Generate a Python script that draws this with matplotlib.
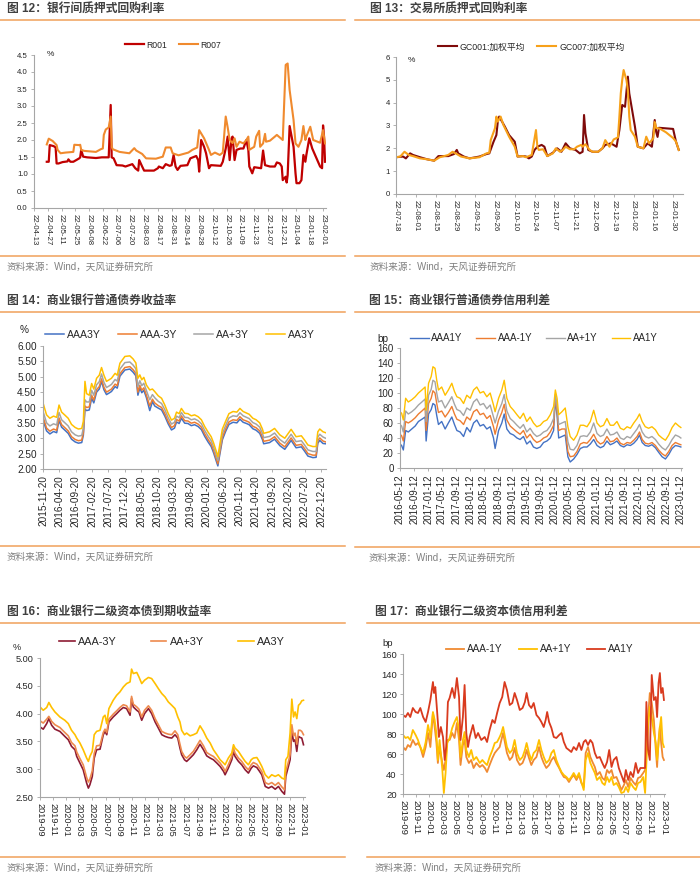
import matplotlib
matplotlib.use("Agg")
import matplotlib.pyplot as plt
import matplotlib.dates as mdates
from matplotlib.lines import Line2D
from matplotlib.ticker import FormatStrFormatter
import pandas as pd

plt.rcParams['font.family'] = ['Liberation Sans', 'Noto Sans CJK SC']

# ---------------- data ----------------
# 图12 银行间质押式回购利率 (%)
r007 = [("2022-04-26", 1.87), ("2022-04-28", 2.04), ("2022-05-02", 1.97), ("2022-05-06", 1.85), ("2022-05-07", 1.71),
        ("2022-05-10", 1.61), ("2022-05-15", 1.63), ("2022-05-23", 1.65), ("2022-05-24", 1.86), ("2022-05-29", 1.85),
        ("2022-05-30", 1.86), ("2022-05-31", 1.71), ("2022-06-03", 1.68), ("2022-06-15", 1.65), ("2022-06-20", 1.73),
        ("2022-06-22", 1.75), ("2022-06-23", 2.15), ("2022-06-25", 2.31), ("2022-06-28", 2.37), ("2022-06-30", 2.69),
        ("2022-07-01", 1.80), ("2022-07-02", 1.73), ("2022-07-09", 1.65), ("2022-07-19", 1.61), ("2022-07-24", 1.76),
        ("2022-07-26", 1.69), ("2022-08-01", 1.59), ("2022-08-05", 1.46), ("2022-08-15", 1.45), ("2022-08-22", 1.51),
        ("2022-08-25", 1.78), ("2022-08-30", 1.78), ("2022-09-01", 1.61), ("2022-09-07", 1.55), ("2022-09-17", 1.63),
        ("2022-09-21", 1.71), ("2022-09-26", 1.78), ("2022-09-28", 2.29), ("2022-10-03", 2.05), ("2022-10-08", 1.71),
        ("2022-10-10", 1.56), ("2022-10-14", 1.63), ("2022-10-19", 1.56), ("2022-10-22", 1.63), ("2022-10-25", 2.69),
        ("2022-10-27", 2.37), ("2022-10-29", 2.00), ("2022-11-01", 1.91), ("2022-11-03", 2.05), ("2022-11-05", 1.80),
        ("2022-11-08", 1.95), ("2022-11-12", 1.90), ("2022-11-15", 2.00), ("2022-11-17", 2.10), ("2022-11-18", 1.71),
        ("2022-11-23", 1.80), ("2022-11-25", 2.10), ("2022-11-28", 2.27), ("2022-11-29", 1.80), ("2022-12-02", 1.90),
        ("2022-12-04", 2.18), ("2022-12-05", 1.95), ("2022-12-09", 1.98), ("2022-12-14", 2.10), ("2022-12-16", 2.15),
        ("2022-12-22", 2.00), ("2022-12-25", 4.21), ("2022-12-27", 4.25), ("2022-12-29", 3.47), ("2023-01-02", 2.59),
        ("2023-01-04", 1.90), ("2023-01-07", 1.80), ("2023-01-10", 2.00), ("2023-01-12", 2.41), ("2023-01-14", 2.00),
        ("2023-01-15", 2.10), ("2023-01-19", 2.39), ("2023-01-22", 2.00), ("2023-01-29", 1.92), ("2023-02-01", 2.29),
        ("2023-02-03", 1.90)]
r001 = [("2022-04-26", 1.36), ("2022-04-28", 1.36), ("2022-04-29", 1.85), ("2022-05-03", 1.82), ("2022-05-05", 1.78),
        ("2022-05-06", 1.31), ("2022-05-08", 1.31), ("2022-05-12", 1.35), ("2022-05-17", 1.37), ("2022-05-18", 1.43),
        ("2022-05-20", 1.36), ("2022-05-23", 1.36), ("2022-05-29", 1.46), ("2022-05-30", 1.49), ("2022-05-31", 1.71),
        ("2022-06-02", 1.51), ("2022-06-06", 1.49), ("2022-06-15", 1.47), ("2022-06-21", 1.49), ("2022-06-28", 1.49),
        ("2022-06-30", 3.03), ("2022-07-01", 1.49), ("2022-07-03", 1.46), ("2022-07-06", 1.26), ("2022-07-12", 1.25),
        ("2022-07-15", 1.22), ("2022-07-19", 1.26), ("2022-07-22", 1.29), ("2022-07-25", 1.17), ("2022-07-28", 1.10),
        ("2022-07-29", 1.41), ("2022-08-01", 1.22), ("2022-08-03", 1.10), ("2022-08-13", 1.10), ("2022-08-17", 1.17),
        ("2022-08-18", 1.22), ("2022-08-22", 1.17), ("2022-08-25", 1.29), ("2022-08-29", 1.24), ("2022-08-31", 1.26),
        ("2022-09-02", 1.56), ("2022-09-04", 1.22), ("2022-09-06", 1.12), ("2022-09-09", 1.24), ("2022-09-16", 1.26),
        ("2022-09-19", 1.46), ("2022-09-25", 1.53), ("2022-09-27", 1.41), ("2022-09-28", 1.07), ("2022-09-30", 2.00),
        ("2022-10-03", 1.80), ("2022-10-05", 1.61), ("2022-10-08", 1.17), ("2022-10-10", 1.26), ("2022-10-20", 1.24),
        ("2022-10-22", 1.36), ("2022-10-25", 1.75), ("2022-10-27", 2.10), ("2022-10-29", 1.41), ("2022-10-31", 2.05),
        ("2022-11-01", 2.10), ("2022-11-03", 1.41), ("2022-11-05", 1.71), ("2022-11-09", 1.75), ("2022-11-12", 1.75),
        ("2022-11-15", 2.00), ("2022-11-17", 1.71), ("2022-11-18", 1.22), ("2022-11-21", 1.02), ("2022-11-23", 1.20),
        ("2022-11-30", 1.17), ("2022-12-02", 1.69), ("2022-12-04", 1.26), ("2022-12-09", 1.22), ("2022-12-14", 1.22),
        ("2022-12-16", 1.34), ("2022-12-19", 1.31), ("2022-12-21", 1.22), ("2022-12-22", 0.82), ("2022-12-25", 0.92),
        ("2022-12-26", 0.75), ("2022-12-27", 0.97), ("2022-12-29", 2.41), ("2023-01-02", 1.80), ("2023-01-04", 1.02),
        ("2023-01-05", 0.73), ("2023-01-08", 0.73), ("2023-01-10", 0.82), ("2023-01-12", 1.56), ("2023-01-14", 1.36),
        ("2023-01-15", 1.56), ("2023-01-18", 2.05), ("2023-01-21", 1.75), ("2023-01-29", 1.22), ("2023-01-31", 1.17),
        ("2023-02-01", 2.43), ("2023-02-02", 2.10), ("2023-02-03", 1.36)]

# 图13 交易所质押式回购利率 (%)
gc007 = [("2022-07-18", 1.61), ("2022-07-21", 1.64), ("2022-07-24", 1.85), ("2022-07-27", 1.71), ("2022-07-30", 1.66),
         ("2022-08-04", 1.56), ("2022-08-09", 1.52), ("2022-08-14", 1.46), ("2022-08-18", 1.61), ("2022-08-24", 1.71),
         ("2022-08-27", 1.85), ("2022-08-30", 1.75), ("2022-09-02", 1.64), ("2022-09-08", 1.56), ("2022-09-15", 1.61),
         ("2022-09-20", 1.78), ("2022-09-22", 1.81), ("2022-09-23", 2.36), ("2022-09-26", 2.88), ("2022-09-27", 3.39),
         ("2022-09-28", 3.17), ("2022-09-30", 3.39), ("2022-10-02", 3.02), ("2022-10-06", 2.51), ("2022-10-10", 2.07),
         ("2022-10-12", 1.64), ("2022-10-16", 1.66), ("2022-10-18", 1.61), ("2022-10-22", 1.71), ("2022-10-23", 2.07),
         ("2022-10-25", 2.80), ("2022-10-26", 2.07), ("2022-10-27", 1.93), ("2022-10-30", 1.96), ("2022-11-02", 1.66),
         ("2022-11-06", 1.78), ("2022-11-08", 2.00), ("2022-11-11", 1.85), ("2022-11-13", 1.93), ("2022-11-15", 2.07),
         ("2022-11-18", 1.96), ("2022-11-21", 1.96), ("2022-11-23", 2.07), ("2022-11-26", 2.15), ("2022-11-27", 2.07),
         ("2022-11-29", 2.18), ("2022-12-02", 1.93), ("2022-12-04", 1.85), ("2022-12-08", 1.85), ("2022-12-11", 2.00),
         ("2022-12-13", 2.36), ("2022-12-16", 2.07), ("2022-12-19", 2.39), ("2022-12-22", 2.48), ("2022-12-23", 3.39),
         ("2022-12-24", 4.41), ("2022-12-25", 4.99), ("2022-12-26", 5.43), ("2022-12-28", 4.99), ("2022-12-29", 4.55),
         ("2022-12-30", 3.39), ("2022-12-31", 2.80), ("2023-01-03", 2.51), ("2023-01-05", 2.07), ("2023-01-09", 2.00),
         ("2023-01-11", 2.51), ("2023-01-13", 2.22), ("2023-01-16", 2.44), ("2023-01-17", 3.15), ("2023-01-18", 2.90),
         ("2023-01-21", 2.85), ("2023-01-25", 2.70), ("2023-01-30", 2.45), ("2023-02-01", 2.30), ("2023-02-03", 1.93)]
gc001 = [("2022-07-18", 1.61), ("2022-07-23", 1.64), ("2022-07-25", 1.56), ("2022-07-28", 1.78), ("2022-07-30", 1.71),
         ("2022-08-04", 1.61), ("2022-08-09", 1.52), ("2022-08-14", 1.46), ("2022-08-17", 1.66), ("2022-08-24", 1.66),
         ("2022-08-28", 1.75), ("2022-08-30", 1.93), ("2022-08-31", 1.78), ("2022-09-04", 1.64), ("2022-09-08", 1.56),
         ("2022-09-15", 1.64), ("2022-09-20", 1.75), ("2022-09-22", 1.78), ("2022-09-25", 2.29), ("2022-09-27", 2.58),
         ("2022-09-28", 3.17), ("2022-09-29", 3.39), ("2022-10-03", 2.95), ("2022-10-06", 2.58), ("2022-10-10", 2.29),
         ("2022-10-12", 1.64), ("2022-10-16", 1.66), ("2022-10-18", 1.64), ("2022-10-20", 1.56), ("2022-10-22", 1.64),
         ("2022-10-24", 1.93), ("2022-10-26", 2.07), ("2022-10-29", 2.15), ("2022-10-31", 2.07), ("2022-11-02", 1.66),
         ("2022-11-06", 1.81), ("2022-11-09", 2.00), ("2022-11-12", 1.85), ("2022-11-15", 2.22), ("2022-11-18", 2.00),
         ("2022-11-22", 1.93), ("2022-11-25", 1.78), ("2022-11-27", 1.85), ("2022-11-28", 3.46), ("2022-11-29", 2.66),
         ("2022-12-01", 1.93), ("2022-12-04", 1.85), ("2022-12-08", 1.85), ("2022-12-11", 2.00), ("2022-12-13", 2.15),
         ("2022-12-17", 2.22), ("2022-12-21", 2.07), ("2022-12-23", 2.80), ("2022-12-25", 3.90), ("2022-12-27", 3.82),
         ("2022-12-29", 5.14), ("2022-12-30", 4.41), ("2023-01-03", 2.95), ("2023-01-05", 2.07), ("2023-01-09", 2.00),
         ("2023-01-12", 2.22), ("2023-01-15", 2.07), ("2023-01-17", 3.24), ("2023-01-18", 2.73), ("2023-01-19", 2.50),
         ("2023-01-20", 2.90), ("2023-01-30", 2.85), ("2023-02-01", 2.30), ("2023-02-03", 1.93)]

# 图14 商业银行普通债券收益率 (%)
p14_dates = ["2015-11-20", "2015-12-23", "2016-01-23", "2016-02-26", "2016-03-26", "2016-04-17", "2016-05-11", "2016-06-11",
             "2016-07-11", "2016-08-11", "2016-09-14", "2016-10-14", "2016-11-14", "2016-11-29", "2016-12-14", "2016-12-29",
             "2017-01-23", "2017-02-14", "2017-03-06", "2017-04-01", "2017-04-26", "2017-05-17", "2017-06-08", "2017-07-02",
             "2017-07-26", "2017-08-17", "2017-09-20", "2017-10-10", "2017-11-04", "2017-12-20", "2018-02-04", "2018-03-06",
             "2018-04-01", "2018-04-20", "2018-05-08", "2018-05-26", "2018-06-14", "2018-07-08", "2018-08-08", "2018-09-02",
             "2018-09-23", "2018-10-26", "2018-11-26", "2018-12-26", "2019-01-26", "2019-02-26", "2019-03-26", "2019-04-14",
             "2019-05-08", "2019-05-29", "2019-06-29", "2019-07-29", "2019-08-29", "2019-09-29", "2019-11-01", "2019-12-01",
             "2020-01-01", "2020-02-01", "2020-03-01", "2020-03-23", "2020-04-17", "2020-05-02", "2020-05-17", "2020-06-13",
             "2020-07-13", "2020-08-13", "2020-09-20", "2020-10-26", "2020-11-23", "2020-12-23", "2021-01-23", "2021-02-17",
             "2021-03-23", "2021-04-23", "2021-05-26", "2021-06-20", "2021-07-02", "2021-08-26", "2021-10-11", "2021-11-29",
             "2022-01-14", "2022-03-14", "2022-04-29", "2022-06-17", "2022-07-17", "2022-08-17", "2022-10-02", "2022-11-01",
             "2022-11-17", "2022-12-05", "2023-01-04", "2023-01-29"]
aaa3y_14 = [3.60, 3.24, 3.14, 3.22, 3.18, 3.58, 3.36, 3.26, 3.16, 2.97, 2.88, 2.84, 2.86, 3.10, 3.95, 3.90, 3.92, 4.30, 4.15, 4.50,
            4.60, 4.85, 4.58, 4.42, 4.47, 4.52, 4.68, 4.63, 5.02, 5.22, 5.25, 5.15, 5.03, 4.40, 4.64, 4.48, 4.56, 4.32, 3.90, 4.19,
            4.05, 3.98, 3.92, 3.72, 3.47, 3.27, 3.33, 3.53, 3.48, 3.65, 3.49, 3.48, 3.41, 3.44, 3.38, 3.28, 3.06, 2.88, 2.73, 2.53,
            2.26, 2.10, 2.41, 2.95, 3.22, 3.45, 3.52, 3.50, 3.62, 3.52, 3.48, 3.44, 3.31, 3.26, 3.16, 2.96, 2.82, 2.86, 2.97, 2.76,
            2.64, 2.93, 2.69, 2.72, 2.58, 2.42, 2.37, 2.38, 2.84, 2.93, 2.83, 2.82]
aaa_3y_14 = [3.70, 3.33, 3.23, 3.30, 3.26, 3.66, 3.44, 3.34, 3.24, 3.05, 2.96, 2.92, 2.94, 3.18, 4.05, 4.00, 4.02, 4.40, 4.24, 4.58,
             4.68, 4.93, 4.66, 4.50, 4.55, 4.60, 4.76, 4.71, 5.10, 5.30, 5.33, 5.23, 5.11, 4.50, 4.72, 4.56, 4.64, 4.40, 4.05, 4.27,
             4.15, 4.06, 4.00, 3.80, 3.55, 3.35, 3.41, 3.61, 3.56, 3.73, 3.57, 3.56, 3.49, 3.52, 3.46, 3.36, 3.14, 2.96, 2.81, 2.61,
             2.34, 2.17, 2.49, 3.03, 3.30, 3.53, 3.60, 3.58, 3.70, 3.60, 3.56, 3.52, 3.39, 3.34, 3.24, 3.04, 2.90, 2.94, 3.05, 2.84,
             2.72, 3.01, 2.77, 2.80, 2.66, 2.50, 2.45, 2.45, 2.92, 3.01, 2.91, 2.88]
aap3y_14 = [3.88, 3.50, 3.40, 3.47, 3.43, 3.84, 3.60, 3.50, 3.40, 3.21, 3.11, 3.07, 3.09, 3.33, 4.25, 4.18, 4.18, 4.56, 4.40, 4.74,
            4.84, 5.09, 4.82, 4.65, 4.70, 4.75, 4.91, 4.86, 5.25, 5.46, 5.48, 5.38, 5.26, 4.68, 4.87, 4.71, 4.79, 4.55, 4.25, 4.42,
            4.32, 4.20, 4.13, 3.93, 3.67, 3.46, 3.52, 3.72, 3.67, 3.84, 3.68, 3.67, 3.60, 3.63, 3.57, 3.47, 3.25, 3.07, 2.92, 2.72,
            2.45, 2.28, 2.60, 3.15, 3.41, 3.66, 3.73, 3.71, 3.83, 3.73, 3.68, 3.64, 3.51, 3.46, 3.36, 3.16, 3.02, 3.06, 3.17, 2.96,
            2.84, 3.13, 2.89, 2.92, 2.78, 2.62, 2.57, 2.57, 3.04, 3.13, 3.04, 3.00]
aa3y_14 = [4.15, 3.76, 3.65, 3.72, 3.68, 4.08, 3.85, 3.75, 3.65, 3.45, 3.35, 3.30, 3.32, 3.55, 4.85, 4.45, 4.40, 4.78, 4.60, 4.95,
           5.05, 5.30, 5.05, 4.85, 4.90, 4.95, 5.11, 5.05, 5.44, 5.66, 5.68, 5.58, 5.45, 4.95, 5.06, 4.90, 4.98, 4.73, 4.57, 4.60,
           4.52, 4.38, 4.30, 4.08, 3.81, 3.59, 3.65, 3.85, 3.80, 3.97, 3.81, 3.80, 3.73, 3.76, 3.70, 3.60, 3.38, 3.20, 3.05, 2.85,
           2.58, 2.40, 2.73, 3.30, 3.55, 3.80, 3.87, 3.85, 3.97, 3.87, 3.82, 3.78, 3.65, 3.60, 3.50, 3.30, 3.16, 3.21, 3.32, 3.11,
           3.00, 3.29, 3.05, 3.08, 2.94, 2.78, 2.73, 2.73, 3.21, 3.30, 3.21, 3.18]

# 图15 商业银行普通债券信用利差 (bp)
p15_dates = ["2016-05-12", "2016-05-26", "2016-06-10", "2016-06-30", "2016-07-23", "2016-08-22", "2016-09-21", "2016-10-19",
             "2016-11-18", "2016-12-16", "2016-12-25", "2017-01-15", "2017-02-07", "2017-02-22", "2017-03-12", "2017-03-27",
             "2017-04-11", "2017-05-09", "2017-06-08", "2017-07-06", "2017-08-05", "2017-08-28", "2017-09-18", "2017-10-16",
             "2017-11-15", "2017-12-13", "2018-01-12", "2018-02-10", "2018-03-10", "2018-04-08", "2018-05-07", "2018-06-05",
             "2018-07-04", "2018-08-02", "2018-08-16", "2018-09-15", "2018-10-13", "2018-11-03", "2018-11-26", "2018-12-25",
             "2019-01-23", "2019-02-22", "2019-03-21", "2019-04-19", "2019-05-18", "2019-06-16", "2019-07-15", "2019-08-13",
             "2019-09-12", "2019-10-11", "2019-11-09", "2019-12-08", "2020-01-06", "2020-01-21", "2020-02-05", "2020-02-19",
             "2020-03-18", "2020-04-16", "2020-05-09", "2020-05-29", "2020-06-28", "2020-07-27", "2020-08-25", "2020-09-23",
             "2020-10-22", "2020-11-20", "2020-12-19", "2021-01-17", "2021-02-15", "2021-03-15", "2021-04-13", "2021-05-12",
             "2021-06-10", "2021-07-09", "2021-08-08", "2021-09-06", "2021-10-05", "2021-11-03", "2021-12-02", "2021-12-31",
             "2022-01-21", "2022-02-13", "2022-03-12", "2022-04-10", "2022-05-09", "2022-06-08", "2022-07-06", "2022-08-05",
             "2022-09-03", "2022-10-02", "2022-10-31", "2022-11-29", "2022-12-28", "2023-01-15"]
aaa1y_15 = [32, 30, 24, 50, 48, 52, 56, 62, 65, 68, 36, 72, 78, 86, 84, 70, 58, 62, 52, 60,
            68, 58, 50, 48, 42, 54, 48, 60, 64, 56, 58, 52, 55, 40, 26, 50, 60, 72, 52, 46,
            44, 40, 38, 42, 32, 36, 28, 26, 28, 34, 36, 40, 50, 92, 70, 40, 42, 44, 15, 8,
            12, 18, 26, 28, 28, 32, 38, 30, 27, 29, 36, 31, 33, 36, 30, 28, 31, 30, 33, 38,
            44, 34, 30, 29, 31, 27, 21, 15, 12, 18, 26, 30, 29, 28]
aaa_1y_15 = [45, 43, 36, 62, 60, 63, 67, 72, 76, 80, 50, 86, 93, 103, 100, 86, 74, 76, 68, 74,
             82, 72, 65, 63, 58, 68, 64, 75, 78, 71, 73, 66, 70, 55, 45, 64, 74, 85, 64, 56,
             52, 48, 45, 50, 40, 45, 38, 34, 36, 40, 42, 48, 57, 95, 76, 50, 52, 52, 22, 15,
             16, 22, 32, 34, 33, 38, 45, 36, 32, 34, 42, 35, 36, 40, 33, 31, 34, 33, 37, 42,
             48, 38, 33, 32, 34, 30, 24, 19, 16, 22, 30, 34, 32, 31]
aap1y_15 = [58, 56, 48, 76, 72, 75, 79, 84, 88, 92, 62, 97, 105, 117, 115, 100, 88, 90, 80, 87,
            95, 85, 78, 76, 70, 80, 77, 88, 92, 84, 86, 79, 84, 68, 60, 76, 86, 98, 76, 66,
            62, 57, 53, 58, 48, 53, 46, 42, 44, 48, 50, 56, 66, 98, 82, 58, 60, 62, 35, 25,
            24, 30, 42, 43, 42, 48, 60, 46, 42, 44, 52, 44, 45, 48, 40, 38, 42, 40, 46, 52,
            58, 48, 42, 40, 42, 38, 32, 27, 24, 30, 38, 44, 42, 40]
aa1y_15 = [75, 73, 64, 93, 88, 91, 95, 100, 104, 108, 77, 113, 122, 135, 133, 117, 104, 108, 97, 104,
           113, 102, 95, 93, 86, 97, 93, 104, 108, 100, 102, 95, 100, 84, 75, 93, 104, 117, 93, 82,
           77, 71, 66, 73, 62, 68, 60, 55, 57, 62, 64, 71, 82, 104, 93, 71, 75, 80, 55, 42,
           37, 44, 57, 57, 55, 62, 77, 60, 55, 57, 66, 57, 57, 62, 53, 51, 55, 53, 60, 66,
           72, 62, 55, 53, 55, 51, 44, 40, 37, 44, 54, 60, 56, 54]

# 图16 商业银行二级资本债到期收益率 (%)
p16_dates = ["2019-09-01", "2019-09-16", "2019-10-02", "2019-10-12", "2019-10-25", "2019-11-09", "2019-12-02", "2019-12-25",
             "2020-01-10", "2020-01-25", "2020-02-10", "2020-02-18", "2020-03-04", "2020-03-19", "2020-04-04", "2020-04-12",
             "2020-04-19", "2020-04-30", "2020-05-09", "2020-05-20", "2020-06-05", "2020-06-20", "2020-06-28", "2020-07-06",
             "2020-07-16", "2020-08-05", "2020-08-21", "2020-09-05", "2020-09-21", "2020-10-06", "2020-10-22", "2020-10-29",
             "2020-11-06", "2020-11-22", "2020-12-02", "2020-12-15", "2020-12-28", "2021-01-15", "2021-01-30", "2021-02-15",
             "2021-03-02", "2021-03-18", "2021-04-02", "2021-04-17", "2021-05-03", "2021-05-18", "2021-05-31", "2021-06-10",
             "2021-06-18", "2021-07-01", "2021-07-11", "2021-07-27", "2021-08-11", "2021-08-27", "2021-09-11", "2021-09-27",
             "2021-10-12", "2021-10-28", "2021-11-12", "2021-11-28", "2021-12-13", "2021-12-29", "2022-01-05", "2022-01-20",
             "2022-02-05", "2022-02-13", "2022-02-20", "2022-03-08", "2022-03-23", "2022-04-08", "2022-04-23", "2022-05-06",
             "2022-05-16", "2022-06-01", "2022-06-12", "2022-06-24", "2022-07-10", "2022-07-25", "2022-08-09", "2022-08-25",
             "2022-09-09", "2022-09-25", "2022-10-07", "2022-10-13", "2022-10-23", "2022-11-02", "2022-11-10", "2022-11-18",
             "2022-11-25", "2022-12-03", "2022-12-11", "2022-12-19", "2022-12-26", "2023-01-03"]
aaa_3y_16 = [3.76, 3.72, 3.82, 3.91, 3.79, 3.72, 3.68, 3.59, 3.53, 3.41, 3.35, 3.23, 3.11, 2.99, 2.75, 2.66, 2.72, 2.87, 3.20, 3.35,
             3.36, 3.62, 3.68, 3.62, 3.85, 3.94, 4.00, 4.06, 4.11, 4.09, 3.97, 4.27, 4.12, 4.06, 4.03, 3.88, 4.00, 4.09, 4.00, 3.85,
             3.74, 3.62, 3.59, 3.57, 3.56, 3.62, 3.56, 3.38, 3.26, 3.17, 3.14, 3.20, 3.26, 3.35, 3.45, 3.35, 3.24, 3.20, 3.17, 3.11,
             3.05, 2.96, 2.90, 3.02, 3.17, 3.32, 3.23, 3.14, 3.08, 2.99, 2.93, 3.02, 3.06, 3.03, 2.97, 2.90, 2.69, 2.66, 2.69, 2.64,
             2.69, 2.60, 2.55, 2.87, 3.02, 3.17, 3.68, 3.50, 3.53, 3.32, 3.59, 3.57, 3.56, 3.44]
aap3y_16 = [3.87, 3.83, 3.90, 3.95, 3.86, 3.80, 3.75, 3.66, 3.60, 3.48, 3.42, 3.31, 3.19, 3.08, 2.85, 2.77, 2.82, 2.97, 3.28, 3.42,
            3.43, 3.66, 3.72, 3.66, 3.90, 3.99, 4.05, 4.11, 4.16, 4.14, 4.03, 4.31, 4.17, 4.12, 4.08, 3.94, 4.06, 4.14, 4.06, 3.91,
            3.80, 3.68, 3.65, 3.63, 3.62, 3.69, 3.62, 3.45, 3.32, 3.23, 3.20, 3.26, 3.32, 3.42, 3.52, 3.42, 3.30, 3.26, 3.23, 3.17,
            3.11, 3.02, 2.96, 3.08, 3.23, 3.38, 3.29, 3.20, 3.14, 3.05, 2.99, 3.08, 3.12, 3.09, 3.03, 2.96, 2.76, 2.73, 2.76, 2.71,
            2.76, 2.68, 2.63, 2.96, 3.10, 3.26, 3.80, 3.60, 3.65, 3.45, 3.70, 3.70, 3.68, 3.62]
aa3y_16 = [4.12, 4.06, 4.11, 4.20, 4.11, 4.03, 3.94, 3.88, 3.82, 3.70, 3.62, 3.56, 3.47, 3.35, 3.20, 3.14, 3.23, 3.32, 3.62, 3.68,
           3.70, 3.94, 3.97, 3.82, 4.09, 4.24, 4.33, 4.39, 4.48, 4.54, 4.57, 4.80, 4.72, 4.74, 4.66, 4.54, 4.60, 4.65, 4.63, 4.54,
           4.45, 4.36, 4.30, 4.21, 4.15, 4.09, 3.94, 3.85, 3.70, 3.62, 3.65, 3.60, 3.62, 3.65, 3.78, 3.68, 3.56, 3.47, 3.35, 3.26,
           3.17, 3.11, 3.08, 3.20, 3.29, 3.44, 3.38, 3.32, 3.23, 3.14, 3.08, 3.17, 3.20, 3.21, 3.14, 3.05, 2.90, 2.84, 2.90, 2.87,
           2.90, 2.84, 2.82, 3.17, 3.23, 3.65, 4.26, 3.94, 4.03, 3.91, 4.15, 4.18, 4.23, 4.24]

# 图17 商业银行二级资本债信用利差 (bp)
p17_dates = ["2019-09-01", "2019-09-13", "2019-09-24", "2019-10-05", "2019-10-17", "2019-10-30", "2019-11-10", "2019-11-21",
             "2019-12-04", "2019-12-16", "2019-12-27", "2020-01-07", "2020-01-19", "2020-01-27", "2020-02-04", "2020-02-11",
             "2020-02-19", "2020-03-03", "2020-03-10", "2020-03-18", "2020-03-26", "2020-04-06", "2020-04-18", "2020-04-29",
             "2020-05-10", "2020-05-20", "2020-05-27", "2020-06-07", "2020-06-15", "2020-06-23", "2020-07-05", "2020-07-16",
             "2020-07-27", "2020-08-09", "2020-08-25", "2020-09-06", "2020-09-18", "2020-09-28", "2020-10-10", "2020-10-23",
             "2020-11-03", "2020-11-14", "2020-11-26", "2020-12-04", "2020-12-12", "2020-12-21", "2020-12-30", "2021-01-12",
             "2021-01-24", "2021-02-04", "2021-02-15", "2021-02-28", "2021-03-13", "2021-03-24", "2021-04-01", "2021-04-12",
             "2021-04-23", "2021-05-04", "2021-05-17", "2021-05-29", "2021-06-09", "2021-06-20", "2021-07-02", "2021-07-15",
             "2021-07-26", "2021-08-06", "2021-08-18", "2021-08-31", "2021-09-11", "2021-09-22", "2021-10-04", "2021-10-16",
             "2021-10-27", "2021-11-07", "2021-11-20", "2021-12-02", "2021-12-13", "2021-12-24", "2022-01-02", "2022-01-13",
             "2022-01-24", "2022-02-03", "2022-02-14", "2022-02-24", "2022-03-09", "2022-03-21", "2022-04-01", "2022-04-12",
             "2022-04-22", "2022-05-03", "2022-05-13", "2022-05-26", "2022-06-06", "2022-06-18", "2022-06-30", "2022-07-09",
             "2022-07-20", "2022-07-31", "2022-08-12", "2022-08-24", "2022-09-04", "2022-09-15", "2022-09-28", "2022-10-07",
             "2022-10-13", "2022-10-21", "2022-10-29", "2022-11-07", "2022-11-17", "2022-11-26", "2022-12-02", "2022-12-09",
             "2022-12-15", "2022-12-21", "2022-12-28", "2023-01-03"]
aaa_1y_17 = [67, 64, 69, 67, 74, 69, 71, 67, 57, 67, 81, 67, 101, 87, 72, 51, 67, 51, 44, 54,
             74, 74, 81, 76, 91, 74, 49, 69, 74, 57, 51, 54, 46, 51, 47, 49, 46, 42, 49, 56,
             61, 64, 67, 74, 81, 71, 61, 54, 57, 66, 54, 49, 51, 57, 64, 56, 49, 54, 57, 67,
             57, 51, 46, 49, 54, 57, 51, 46, 41, 37, 36, 32, 36, 39, 34, 39, 31, 27, 61, 67,
             57, 52, 47, 39, 42, 36, 34, 44, 41, 44, 36, 37, 31, 24, 29, 34, 27, 36, 32, 29,
             36, 37, 41, 44, 64, 97, 121, 111, 94, 64, 47, 74, 87, 71, 57, 54]
aap1y_17 = [79, 76, 77, 74, 84, 79, 74, 67, 61, 72, 89, 77, 102, 94, 81, 54, 74, 44, 21, 41,
            71, 76, 86, 92, 97, 84, 57, 74, 82, 64, 57, 64, 54, 57, 51, 54, 51, 49, 57, 64,
            71, 72, 77, 81, 87, 77, 67, 61, 64, 74, 61, 54, 57, 64, 71, 61, 54, 61, 64, 74,
            64, 57, 51, 54, 61, 64, 54, 47, 42, 39, 37, 34, 37, 41, 36, 41, 32, 24, 54, 61,
            51, 46, 41, 34, 37, 31, 29, 37, 32, 37, 29, 31, 27, 21, 22, 27, 22, 31, 27, 24,
            31, 32, 37, 21, 51, 87, 107, 97, 81, 71, 54, 71, 87, 97, 71, 67]
p17_red_dates = ["2019-09-01", "2019-09-13", "2019-09-24", "2019-10-05", "2019-10-17", "2019-10-30", "2019-11-10", "2019-11-21",
                 "2019-12-04", "2019-12-16", "2019-12-27", "2020-01-07", "2020-01-19", "2020-01-24", "2020-01-30", "2020-02-07",
                 "2020-02-16", "2020-02-25", "2020-03-06", "2020-03-14", "2020-03-21", "2020-03-29", "2020-04-06", "2020-04-18",
                 "2020-04-29", "2020-05-10", "2020-05-20", "2020-05-27", "2020-06-07", "2020-06-15", "2020-06-23", "2020-07-01",
                 "2020-07-09", "2020-07-24", "2020-08-06", "2020-08-17", "2020-09-01", "2020-09-17", "2020-09-28", "2020-10-10",
                 "2020-10-23", "2020-11-03", "2020-11-14", "2020-11-26", "2020-12-08", "2020-12-19", "2020-12-30", "2021-01-12",
                 "2021-01-24", "2021-02-04", "2021-02-15", "2021-02-28", "2021-03-13", "2021-03-24", "2021-04-01", "2021-04-12",
                 "2021-04-23", "2021-05-04", "2021-05-17", "2021-05-29", "2021-06-09", "2021-06-20", "2021-06-29", "2021-07-06",
                 "2021-07-15", "2021-07-26", "2021-08-06", "2021-08-18", "2021-08-31", "2021-09-11", "2021-09-22", "2021-10-04",
                 "2021-10-16", "2021-10-27", "2021-11-07", "2021-11-20", "2021-12-02", "2021-12-13", "2021-12-24", "2022-01-02",
                 "2022-01-13", "2022-01-24", "2022-02-03", "2022-02-14", "2022-02-24", "2022-03-09", "2022-03-21", "2022-04-01",
                 "2022-04-12", "2022-04-22", "2022-05-03", "2022-05-13", "2022-05-26", "2022-06-06", "2022-06-18", "2022-06-30",
                 "2022-07-09", "2022-07-20", "2022-07-31", "2022-08-12", "2022-08-24", "2022-09-04", "2022-09-15", "2022-09-28",
                 "2022-10-07", "2022-10-13", "2022-10-21", "2022-10-29", "2022-11-07", "2022-11-17", "2022-11-26", "2022-12-02",
                 "2022-12-09", "2022-12-15", "2022-12-21", "2022-12-28", "2023-01-03"]
aa1y_17 = [99, 97, 101, 97, 106, 102, 101, 106, 97, 92, 102, 114, 132, 121, 127, 104, 77, 87, 77, 54,
           67, 112, 116, 126, 116, 136, 117, 74, 97, 129, 81, 67, 77, 89, 76, 81, 74, 77, 72, 84,
           94, 91, 101, 111, 117, 132, 124, 109, 111, 121, 114, 104, 106, 112, 121, 109, 106, 111, 99, 96,
           92, 87, 94, 102, 92, 86, 77, 76, 79, 81, 72, 66, 64, 62, 67, 64, 71, 64, 72, 74,
           69, 74, 71, 61, 56, 57, 51, 46, 52, 64, 47, 54, 57, 46, 39, 32, 44, 34, 42, 37,
           51, 41, 46, 46, 46, 112, 64, 54, 139, 114, 117, 97, 131, 141, 121, 126, 114]

SOURCE = "资料来源：Wind，天风证券研究所"

# ---------------- layout helpers ----------------
W, H = 700, 880
RULE = "#F0A05A"
AXC = "#A6A6A6"
fig = plt.figure(figsize=(W / 100, H / 100), dpi=100)


def add_ax(l, t, r, b):
    return fig.add_axes([l / W, 1 - b / H, (r - l) / W, (b - t) / H])


def ftext(x, y, s, **kw):
    fig.text(x / W, 1 - y / H, s, va="center", **kw)


def hline(x0, x1, y):
    fig.add_artist(Line2D([x0 / W, x1 / W], [1 - y / H] * 2, transform=fig.transFigure, color=RULE, lw=1.1))


def frame(x0, x1, tx, ty, title, sy):
    ftext(tx, ty, title, fontsize=8.5, fontweight="bold", color="#404040")
    hline(x0, x1, ty + 10.5)
    hline(x0, x1, sy)
    ftext(tx, sy + 10.5, SOURCE, fontsize=6.9, color="#7F7F7F")


def style(ax, fs, rot):
    for s in ("top", "right"):
        ax.spines[s].set_visible(False)
    for s in ("left", "bottom"):
        ax.spines[s].set_color(AXC)
        ax.spines[s].set_linewidth(0.8)
    ax.tick_params(axis="both", direction="out", length=2.5, width=0.6, color=AXC,
                   labelsize=fs, labelcolor="#262626", pad=2)
    ax.tick_params(axis="x", labelrotation=rot)
    ax.patch.set_alpha(0)


def legend(ax, cx, cy, fs, ncol, hl=2.0, cs=1.5):
    ax.legend(loc="center", bbox_to_anchor=(cx / W, 1 - cy / H), bbox_transform=fig.transFigure,
              ncol=ncol, frameon=False, fontsize=fs, handlelength=hl, columnspacing=cs,
              handletextpad=0.3, borderpad=0, labelcolor="#262626")


def dts(pairs):
    return pd.to_datetime([p[0] for p in pairs]), [p[1] for p in pairs]


# ---------------- 图12 ----------------
frame(0, 345, 7, 10, "图 12：银行间质押式回购利率", 256)
ax = add_ax(34, 55, 326, 208)
x, y = dts(r001)
ax.plot(x, y, color="#C00000", lw=1.6, label="R001")
x, y = dts(r007)
ax.plot(x, y, color="#F08A2E", lw=1.5, label="R007")
ax.set_ylim(0, 4.5)
ax.set_yticks([i * 0.5 for i in range(10)])
ax.yaxis.set_major_formatter(FormatStrFormatter("%.1f"))
ax.set_xlim(pd.Timestamp("2022-04-13"), pd.Timestamp("2023-02-04"))
ax.set_xticks(pd.date_range("2022-04-13", "2023-02-01", freq="14D"))
ax.xaxis.set_major_formatter(mdates.DateFormatter("%y-%m-%d"))
style(ax, 5.6, 270)
ax.text(0.045, 1.0, "%", transform=ax.transAxes, fontsize=6, color="#262626", va="center")
legend(ax, 173, 45, 6.2, 2, hl=2.2, cs=1.4)

# ---------------- 图13 ----------------
frame(355, 700, 370, 10, "图 13：交易所质押式回购利率", 256)
ax = add_ax(396, 57, 683, 194)
x, y = dts(gc001)
ax.plot(x, y, color="#7F0A0A", lw=1.5, label="GC001:加权平均")
x, y = dts(gc007)
ax.plot(x, y, color="#F7A11A", lw=1.5, label="GC007:加权平均")
ax.set_ylim(0, 6)
ax.set_yticks(range(7))
ax.set_xlim(pd.Timestamp("2022-07-18"), pd.Timestamp("2023-02-06"))
ax.set_xticks(pd.date_range("2022-07-18", "2023-01-30", freq="14D"))
ax.xaxis.set_major_formatter(mdates.DateFormatter("%y-%m-%d"))
style(ax, 5.6, 270)
ax.text(0.04, 1.0, "%", transform=ax.transAxes, fontsize=6, color="#262626", va="top")
legend(ax, 531, 47, 6.3, 2, hl=2.2, cs=1.4)

# ---------------- 图14 ----------------
frame(0, 345, 7, 301, "图 14：商业银行普通债券收益率", 546)
ax = add_ax(43, 346, 326, 469)
x = pd.to_datetime(p14_dates)
ax.plot(x, aaa3y_14, color="#4472C4", lw=1.1, label="AAA3Y")
ax.plot(x, aaa_3y_14, color="#ED7D31", lw=1.1, label="AAA-3Y")
ax.plot(x, aap3y_14, color="#A5A5A5", lw=1.1, label="AA+3Y")
ax.plot(x, aa3y_14, color="#FFC000", lw=1.1, label="AA3Y")
ax.set_ylim(2, 6)
ax.set_yticks([2 + i * 0.5 for i in range(9)])
ax.yaxis.set_major_formatter(FormatStrFormatter("%.2f"))
ax.set_xlim(pd.Timestamp("2015-11-20"), pd.Timestamp("2023-02-01"))
ax.set_xticks(pd.date_range("2015-11-20", periods=18, freq=pd.DateOffset(months=5)))
ax.xaxis.set_major_formatter(mdates.DateFormatter("%Y-%m-%d"))
style(ax, 7.2, 90)
ftext(20, 330, "%", fontsize=7.2, color="#262626")
legend(ax, 180, 335, 7.6, 4, hl=1.8, cs=1.6)

# ---------------- 图15 ----------------
frame(355, 700, 369, 301, "图 15：商业银行普通债券信用利差", 547)
ax = add_ax(400, 348, 682, 468)
x = pd.to_datetime(p15_dates)
ax.plot(x, aaa1y_15, color="#4472C4", lw=1.0, label="AAA1Y")
ax.plot(x, aaa_1y_15, color="#ED7D31", lw=1.0, label="AAA-1Y")
ax.plot(x, aap1y_15, color="#A5A5A5", lw=1.0, label="AA+1Y")
ax.plot(x, aa1y_15, color="#FFC000", lw=1.0, label="AA1Y")
ax.set_ylim(0, 160)
ax.set_yticks(range(0, 161, 20))
ax.set_xlim(pd.Timestamp("2016-05-12"), pd.Timestamp("2023-01-25"))
ax.set_xticks(pd.date_range("2016-05-12", periods=21, freq=pd.DateOffset(months=4)))
ax.xaxis.set_major_formatter(mdates.DateFormatter("%Y-%m-%d"))
style(ax, 7.0, 90)
ftext(377, 339, "bp", fontsize=7.2, color="#262626")
legend(ax, 534, 338, 7.0, 4, hl=1.9, cs=1.4)

# ---------------- 图16 ----------------
frame(0, 345, 7, 612, "图 16：商业银行二级资本债到期收益率", 857)
ax = add_ax(40, 658, 305, 797)
x = pd.to_datetime(p16_dates)
ax.plot(x, aaa_3y_16, color="#8E1B33", lw=1.2, label="AAA-3Y")
ax.plot(x, aap3y_16, color="#EE8A4E", lw=1.2, label="AA+3Y")
ax.plot(x, aa3y_16, color="#FFC000", lw=1.2, label="AA3Y")
ax.set_ylim(2.5, 5.0)
ax.set_yticks([2.5 + i * 0.5 for i in range(6)])
ax.yaxis.set_major_formatter(FormatStrFormatter("%.2f"))
ax.set_xlim(pd.Timestamp("2019-09-01"), pd.Timestamp("2023-01-10"))
ax.set_xticks(pd.date_range("2019-09-01", "2023-01-01", freq="2MS"))
ax.xaxis.set_major_formatter(mdates.DateFormatter("%Y-%m"))
style(ax, 6.6, 270)
ftext(13, 648, "%", fontsize=6.6, color="#262626")
legend(ax, 172, 642, 7.8, 3, hl=1.4, cs=3.2)

# ---------------- 图17 ----------------
frame(367, 700, 375, 612, "图 17：商业银行二级资本债信用利差", 857)
ax = add_ax(403, 654, 665, 794)
x = pd.to_datetime(p17_dates)
ax.plot(x, aaa_1y_17, color="#F08A32", lw=1.3, label="AAA-1Y")
ax.plot(x, aap1y_17, color="#FFC000", lw=1.3, label="AA+1Y")
ax.plot(pd.to_datetime(p17_red_dates), aa1y_17, color="#D93A1E", lw=1.3, label="AA1Y")
ax.set_ylim(20, 160)
ax.set_yticks(range(20, 161, 20))
ax.set_xlim(pd.Timestamp("2019-09-01"), pd.Timestamp("2023-01-08"))
ax.set_xticks(pd.date_range("2019-09-01", "2023-01-01", freq="2MS"))
ax.xaxis.set_major_formatter(mdates.DateFormatter("%Y-%m"))
style(ax, 6.8, 270)
ftext(382, 643, "bp", fontsize=6.8, color="#262626")
legend(ax, 540, 649, 7.2, 3, hl=1.8, cs=1.6)

fig.savefig("out.png", dpi=100)
